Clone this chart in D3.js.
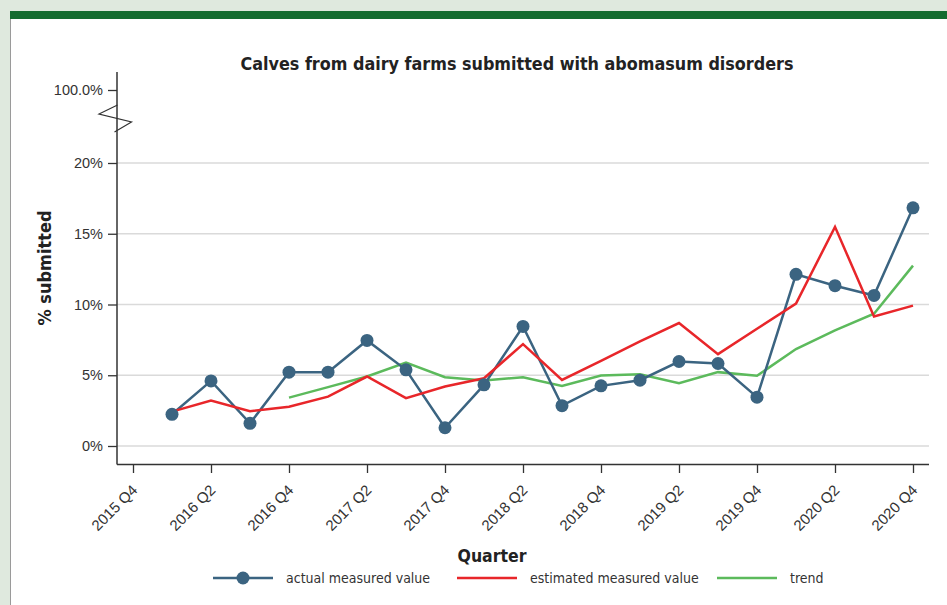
<!DOCTYPE html>
<meta charset="utf-8">
<style>
 body { margin:0; background:#dfe9de; }
 svg { display:block; font-family:"DejaVu Sans Condensed","DejaVu Sans",sans-serif; }
</style>
<script src="https://d3js.org/d3.v7.min.js"></script>
<svg width="947" height="605"></svg>
<script>
const svg = d3.select('svg');

const quarters = ['2015 Q4','2016 Q1','2016 Q2','2016 Q3','2016 Q4','2017 Q1','2017 Q2','2017 Q3','2017 Q4',
	'2018 Q1','2018 Q2','2018 Q3','2018 Q4','2019 Q1','2019 Q2','2019 Q3','2019 Q4','2020 Q1','2020 Q2','2020 Q3','2020 Q4'];
const tickQuarters = quarters.filter((q,i)=>i%2==0);

// % values, first entry at 2016 Q1
const actual = [2.24,4.6,1.6,5.22,5.22,7.46,5.38,1.29,4.32,8.45,2.85,4.25,4.65,5.97,5.83,3.45,12.13,11.33,10.64,16.83];
const estimated = [2.43,3.21,2.46,2.78,3.49,4.91,3.38,4.2,4.79,7.2,4.67,6.02,7.39,8.69,6.49,8.29,10.06,15.49,9.16,9.92];
// trend starts 2016 Q4
const trend = [3.42,4.16,4.91,5.9,4.86,4.63,4.86,4.25,4.98,5.07,4.44,5.22,4.96,6.85,8.17,9.35,12.75];
const yTicks = [0,5,10,15,20,100];

const blue = '#3b6481', red = '#e8262a', green = '#5cba5c';

// panel
svg.append('rect').attr('x',10).attr('y',11).attr('width',937).attr('height',594).attr('fill','#fff');
svg.append('rect').attr('x',10).attr('y',11).attr('width',937).attr('height',8).attr('fill','#146c30');
svg.append('line').attr('x1',10.5).attr('x2',10.5).attr('y1',19).attr('y2',605).attr('stroke','#9a9a9a');

const x = d3.scalePoint().domain(quarters).range([133,913]);
// broken axis: 20% -> 100% squeezed
const y = d3.scaleLinear().domain([0,20,100]).range([446,163,90]);

// gridlines
svg.append('g').selectAll('line').data(yTicks.filter(d=>d<=20)).join('line')
	.attr('x1',117).attr('x2',929)
	.attr('y1',d=>y(d)).attr('y2',d=>y(d))
	.attr('stroke','#dadada').attr('stroke-width',1.5);

// y axis
const yAxis = svg.append('g').attr('transform','translate(117,0)')
	.call(d3.axisLeft(y).tickValues(yTicks).tickSize(9).tickPadding(5)
		.tickFormat(d=>d==100 ? '100.0%' : d+'%'));
yAxis.select('.domain').remove();
yAxis.selectAll('.tick line').attr('stroke','#333').attr('stroke-width',1.3);
yAxis.selectAll('text').attr('font-size',14.5).attr('fill','#333');
svg.append('line').attr('x1',117).attr('x2',117).attr('y1',72).attr('y2',464.5)
	.attr('stroke','#333').attr('stroke-width',1.5);
// break mark
svg.append('path').attr('d','M117.5,105L99,114L131.5,122L114.5,132')
	.attr('fill','none').attr('stroke','#333').attr('stroke-width',1.2);

// x axis
const xAxis = svg.append('g').attr('transform','translate(0,464)')
	.call(d3.axisBottom(x).tickValues(tickQuarters).tickSize(9).tickSizeOuter(0));
xAxis.select('.domain').attr('d','M117,0.5H929').attr('stroke','#333').attr('stroke-width',1.5);
xAxis.selectAll('.tick line').attr('stroke','#333').attr('stroke-width',1.3);
xAxis.selectAll('text')
	.attr('font-size',15).attr('fill','#333')
	.attr('text-anchor','end').attr('dy',0).attr('y',0)
	.attr('transform','translate(5,27) rotate(-45)');

const q0 = quarters.indexOf('2016 Q1');
const qt = quarters.indexOf('2016 Q4');
const line = d3.line().x(d=>x(d[0])).y(d=>y(d[1]));
const act = actual.map((v,i)=>[quarters[q0+i],v]);
const est = estimated.map((v,i)=>[quarters[q0+i],v]);
const tr = trend.map((v,i)=>[quarters[qt+i],v]);

svg.append('path').datum(tr).attr('d',line).attr('fill','none').attr('stroke',green).attr('stroke-width',2.5);
svg.append('path').datum(act).attr('d',line).attr('fill','none').attr('stroke',blue).attr('stroke-width',2.5);
svg.append('path').datum(est).attr('d',line).attr('fill','none').attr('stroke',red).attr('stroke-width',2.5);
svg.append('g').selectAll('circle').data(act).join('circle')
	.attr('cx',d=>x(d[0])).attr('cy',d=>y(d[1])).attr('r',6.5).attr('fill',blue);

// titles
svg.append('text').attr('x',517).attr('y',70).attr('text-anchor','middle')
	.attr('font-size',17.8).attr('font-weight','bold').attr('fill','#222')
	.text('Calves from dairy farms submitted with abomasum disorders');
svg.append('text').attr('transform','translate(51,268) rotate(-90)').attr('text-anchor','middle')
	.attr('font-size',18).attr('font-weight','bold').attr('fill','#222')
	.text('% submitted');
svg.append('text').attr('x',492).attr('y',562).attr('text-anchor','middle')
	.attr('font-size',17.5).attr('font-weight','bold').attr('fill','#222')
	.text('Quarter');

// legend
const legend = [
	{name:'actual measured value', color:blue, x:213, dot:true},
	{name:'estimated measured value', color:red, x:457, dot:false},
	{name:'trend', color:green, x:717, dot:false}
];
const lg = svg.append('g').selectAll('g').data(legend).join('g')
	.attr('transform',d=>`translate(${d.x},578)`);
lg.append('line').attr('x1',0).attr('x2',60).attr('stroke',d=>d.color).attr('stroke-width',2.5);
lg.filter(d=>d.dot).append('circle').attr('cx',30).attr('r',6.5).attr('fill',d=>d.color);
lg.append('text').attr('x',73).attr('y',5).attr('font-size',14).attr('fill','#333').text(d=>d.name);
</script>
